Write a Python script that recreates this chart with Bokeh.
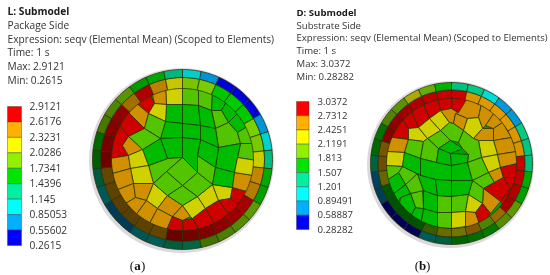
import numpy as np
from bokeh.plotting import figure
from bokeh.models import Range1d
from bokeh.core.properties import value
from bokeh.embed import file_html
from bokeh.resources import INLINE

# ---- legend data ----
band_colors = [(0,0,255),(0,176,255),(0,255,255),(0,240,160),(0,230,0),(144,240,0),(255,255,0),(255,176,0),(255,0,0)]
left_ticks = ["2.9121","2.6176","2.3231","2.0286","1.7341","1.4396","1.145","0.85053","0.55602","0.2615"]
right_ticks = ["3.0372","2.7312","2.4251","2.1191","1.813","1.507","1.201","0.89491","0.58887","0.28282"]
left_text = ["Package Side","Expression: seqv (Elemental Mean) (Scoped to Elements)","Time: 1 s","Max: 2.9121","Min: 0.2615"]
right_text = ["Substrate Side","Expression: seqv (Elemental Mean) (Scoped to Elements)","Time: 1 s","Max: 3.0372","Min: 0.28282"]

# ---- result bands of the rim elements, clockwise from 12 o'clock, 12 degrees each ----
left_outer = [2,1,0,0,0,1,2,3,4,4,5,5,5,5,3,3,2,2,1,1,2,3,4,4,5,5,5,4,4,3]
left_second = [5,5,4,4,4,5,5,6,7,7,8,8,8,8,8,8,7,7,7,7,7,7,8,8,8,8,7,8,7,6]
right_outer = [3,3,2,1,1,3,3,3,4,4,5,5,4,4,4,3,2,0,0,0,1,1,3,4,4,5,5,6,5,4]
right_second = [8,7,7,7,7,7,7,8,8,8,8,7,5,7,6,6,5,4,4,4,4,6,7,7,8,8,8,8,8,8]

# ---- interior elements: (band, nodes) ----
left_cells = [
 (6,[(165,85),(182,85),(182,104),(166,104)]),(5,[(182,85),(198,87),(198,105),(182,104)]),
 (5,[(198,87),(212,92),(211,110),(198,105)]),(4,[(212,92),(226,101),(221,110),(211,110)]),
 (4,[(226,101),(238,112),(228,122),(221,110)]),(4,[(238,112),(250,124),(237,132),(228,122)]),
 (5,[(211,110),(221,110),(228,122),(215,128)]),(5,[(215,128),(228,122),(237,132),(240,143),(218,147)]),
 (5,[(237,132),(250,124),(256,143),(240,143)]),(5,[(240,143),(256,143),(256,160),(237,157)]),
 (4,[(218,147),(240,143),(237,157),(234,172),(215,167)]),(5,[(197,155),(215,167),(212,184),(197,172)]),
 (4,[(200,139),(218,147),(215,167),(197,155)]),(4,[(182,137),(200,139),(197,155),(197,172),(182,157)]),
 (4,[(182,104),(198,105),(200,125),(182,123)]),(4,[(198,105),(211,110),(215,128),(200,125)]),
 (4,[(200,125),(215,128),(218,147),(200,139)]),(4,[(182,123),(200,125),(200,139),(182,137)]),
 (4,[(166,104),(182,104),(182,123),(165,121)]),(4,[(165,121),(182,123),(182,137),(160,138)]),
 (4,[(160,138),(182,137),(182,157),(167,158)]),(5,[(148,165),(167,158),(182,157),(166,171),(153,183)]),
 (4,[(142,149),(160,138),(167,158),(148,165)]),
 (7,[(151,90),(165,85),(166,104),(154,103)]),(8,[(135,102),(149,92),(154,103),(148,113)]),
 (7,[(126,110),(135,102),(148,113),(144,128)]),(8,[(117,122),(126,110),(144,128),(128,136)]),
 (8,[(108,140),(117,122),(128,136),(122,145),(128,155),(109,158)]),(6,[(154,103),(166,104),(165,121),(148,113)]),
 (5,[(148,113),(165,121),(160,138),(144,128)]),(5,[(128,136),(144,128),(160,138),(142,149)]),
 (7,[(122,145),(128,136),(142,149),(128,155)]),(7,[(109,158),(128,155),(130,168),(112,173)]),
 (6,[(128,155),(142,149),(148,165),(130,168)]),(6,[(130,168),(148,165),(153,183),(133,183)]),
 (7,[(112,173),(130,168),(133,183),(115,190)]),(7,[(115,190),(133,183),(135,197),(125,203)]),
 (7,[(133,183),(153,183),(146,200),(135,197)]),(6,[(153,183),(167,195),(157,208),(146,200)]),
 (7,[(125,203),(135,197),(146,200),(135,215)]),(7,[(146,200),(157,208),(148,225),(135,215)]),
 (7,[(157,208),(172,216),(165,232),(148,225)]),(7,[(167,195),(182,205),(172,216),(157,208)]),
 (7,[(182,205),(190,216),(182,220),(172,216)]),(8,[(172,216),(182,220),(183,232),(165,232)]),
 (8,[(182,220),(192,218),(200,232),(183,232)]),(6,[(182,205),(197,196),(205,208),(192,218),(190,216)]),
 (6,[(197,196),(212,184),(218,200),(205,208)]),(6,[(212,184),(232,187),(230,198),(218,200)]),
 (8,[(232,187),(250,192),(243,208),(230,198)]),(8,[(218,200),(230,198),(243,208),(232,218)]),
 (8,[(205,208),(218,200),(232,218),(218,230)]),(8,[(192,218),(205,208),(218,230),(200,232)]),
 (5,[(182,185),(197,196),(182,205),(167,195)]),(5,[(197,172),(212,184),(197,196),(182,185)]),
 (5,[(182,157),(197,172),(182,185),(166,171)]),(5,[(166,171),(182,185),(167,195),(153,183)]),
 (4,[(215,167),(234,172),(232,187),(212,184)]),(7,[(234,172),(253,175),(250,192),(232,187)]),
 (6,[(237,157),(256,160),(253,175),(234,172)]),
]
right_cells = [
 (8,[(437,97),(452,96),(451,108),(440,110)]),(8,[(422,101),(437,97),(440,110),(429,118)]),
 (8,[(410,109),(422,101),(429,118),(418,127)]),(8,[(400,116),(410,109),(418,127),(408,128)]),
 (8,[(389,125),(400,116),(408,128),(408,139),(387,136)]),(7,[(385,136),(408,139),(404,152),(386,151)]),
 (6,[(386,151),(404,152),(402,166),(385,165)]),(6,[(408,128),(418,127),(427,138),(423,141),(408,139)]),
 (6,[(418,127),(429,118),(440,130),(427,138)]),(6,[(429,118),(440,110),(449,122),(440,130)]),
 (7,[(440,110),(451,108),(458,112),(455,113),(453,123),(449,122)]),(8,[(452,96),(467,96),(466,108),(458,112),(451,108)]),
 (7,[(466,99),(481,103),(478,117),(467,118),(455,113),(458,112)]),(7,[(481,103),(494,112),(485,125),(482,128),(478,117)]),
 (7,[(455,113),(467,118),(463,130),(453,123)]),(7,[(494,112),(502,122),(493,128),(485,125)]),
 (6,[(467,118),(478,117),(482,128),(473,138),(463,130)]),(7,[(473,138),(482,128),(493,128),(493,140),(478,140)]),
 (7,[(493,128),(502,122),(511,137),(493,140)]),(7,[(493,140),(511,137),(516,151),(497,154)]),
 (6,[(478,140),(493,140),(497,154),(481,157)]),(6,[(481,157),(497,154),(500,167),(488,172)]),
 (7,[(497,154),(516,151),(517,163),(500,167)]),(5,[(440,130),(449,122),(453,123),(463,130),(458,142),(450,140)]),
 (5,[(427,138),(440,130),(450,140),(438,148)]),(4,[(438,148),(450,140),(462,148),(450,153)]),
 (5,[(462,148),(458,142),(463,130),(473,138),(478,140),(481,157),(467,162),(468,154)]),
 (5,[(408,139),(423,141),(420,158),(404,152)]),(5,[(423,141),(427,138),(438,148),(436,162),(420,158)]),
 (4,[(404,152),(420,158),(420,175),(402,166)]),(4,[(436,162),(451,165),(451,180),(435,179),(420,175),(420,158)]),
 (4,[(438,148),(450,153),(451,165),(436,162)]),(4,[(450,153),(468,154),(467,162),(451,165)]),
 (4,[(451,165),(467,162),(472,180),(451,180)]),(5,[(467,162),(481,157),(488,172),(472,180)]),
 (5,[(472,180),(488,172),(494,182),(483,188)]),(7,[(488,172),(500,167),(503,177),(494,182)]),
 (8,[(500,167),(517,163),(519,177),(503,177)]),(8,[(503,177),(519,177),(515,193),(510,188)]),
 (8,[(483,188),(494,182),(503,177),(510,188),(500,201)]),(8,[(500,201),(510,188),(515,193),(505,208)]),
 (7,[(483,188),(500,201),(490,213),(482,203)]),(5,[(472,180),(483,188),(482,203),(468,194)]),
 (4,[(451,180),(472,180),(468,194),(451,196)]),(5,[(451,196),(468,194),(465,211),(451,212)]),
 (6,[(451,212),(465,211),(465,226),(451,228)]),(6,[(468,194),(482,203),(475,212),(465,211)]),
 (7,[(465,211),(475,212),(480,226),(465,226)]),(8,[(475,212),(482,203),(490,213),(483,222),(480,226)]),
 (5,[(437,195),(451,196),(451,212),(437,212)]),(5,[(437,212),(451,212),(451,228),(437,227)]),
 (4,[(423,208),(437,212),(437,227),(420,225)]),(4,[(423,190),(437,195),(437,212),(423,208)]),
 (4,[(415,207),(423,208),(420,225),(408,219)]),(5,[(410,193),(422,190),(423,208),(415,207)]),
 (5,[(405,184),(417,173),(423,190),(410,193)]),(5,[(398,172),(402,166),(420,175),(417,173),(405,184)]),
 (4,[(400,197),(410,193),(415,207),(408,219),(398,210)]),(4,[(386,180),(398,172),(405,184),(391,195)]),
 (5,[(385,165),(402,166),(398,172),(386,180)]),(4,[(391,195),(405,184),(410,193),(400,197),(396,205)]),
 (4,[(420,175),(435,179),(437,195),(423,190),(417,173)]),(4,[(435,179),(451,180),(451,196),(437,195)]),
]

COL_BG = "#ffffff"
EDGE = "#26320a"
TXT = "#333333"

p = figure(width=550, height=275, x_range=Range1d(0, 550), y_range=Range1d(275, 0),
           toolbar_location=None, output_backend="svg", min_border=0,
           outline_line_color=None, background_fill_color=COL_BG, border_fill_color=COL_BG)
p.axis.visible = False
p.grid.visible = False
p.styles = {"position": "absolute", "left": "0px", "top": "0px", "filter": "blur(0.35px)"}


def shade(level, f, soften=0.0):
    r, g, b = band_colors[level]
    if level == 5:
        r = r * (1 - soften)
    return "#%02x%02x%02x" % (int(r * f), int(g * f), int(b * f))


def sector(cx, cy, r0, r1, a0, a1):
    t = np.radians(np.linspace(a0, a1, 7))
    xo, yo = cx + r1 * np.sin(t), cy - r1 * np.cos(t)
    xi, yi = cx + r0 * np.sin(t[::-1]), cy - r0 * np.cos(t[::-1])
    return np.r_[xo, xi].tolist(), np.r_[yo, yi].tolist()


def draw_disk(cx, cy, R, r1, r2, rim_dx, rim_dy, cells, second, outer):
    p.circle(x=[cx + rim_dx], y=[cy + rim_dy], radius=R + 2.5, fill_color="#dbd9de", line_color=None)
    p.circle(x=[cx], y=[cy], radius=r2 + 1, fill_color=shade(4, 0.7), line_color=None)
    xs = [[q[0] for q in c[1]] for c in cells]
    ys = [[q[1] for q in c[1]] for c in cells]
    cols = [shade(c[0], 0.82, 0.3) for c in cells]
    p.patches(xs=xs, ys=ys, fill_color=cols, line_color=EDGE, line_width=0.75)
    for vals, r_in, r_out, base, amp in ((second, r2, r1, 0.62, 0.26), (outer, r1, R, 0.6, 0.27)):
        n = len(vals)
        sx, sy, sc = [], [], []
        for k, v in enumerate(vals):
            a0 = 360.0 * k / n
            a1 = 360.0 * (k + 1) / n
            x_, y_ = sector(cx, cy, r_in, r_out, a0, a1)
            sx.append(x_)
            sy.append(y_)
            f = base + amp * np.cos(np.radians((a0 + a1) / 2 - 45))
            sc.append(shade(v, f))
        p.patches(xs=sx, ys=sy, fill_color=sc, line_color=EDGE, line_width=0.75)


def draw_legend(x0, w, top, bottom, ticks, label_x, size):
    n = len(band_colors)
    h = (bottom - top) / n
    tops = [top + h * i for i in range(n)]
    p.quad(left=x0, right=x0 + w, top=tops, bottom=[t + h for t in tops],
           fill_color=[shade(n - 1 - i, 1.0) for i in range(n)],
           line_color="#3a3a3a", line_width=0.6, line_alpha=0.7)
    ys = [top - 0.5 + h * i for i in range(len(ticks))]
    p.text(x=[label_x] * len(ticks), y=ys, text=ticks, text_font=value("Open Sans"),
           text_font_size=size, text_color=TXT, text_baseline="middle")


def draw_header(x, title, ys, lines, size):
    p.text(x=[x], y=[ys[0]], text=[title], text_font=value("Open Sans"), text_font_style="bold",
           text_font_size=size, text_color="#1a1a1a", text_baseline="middle")
    p.text(x=[x] * len(lines), y=ys[1:], text=lines, text_font=value("Open Sans"),
           text_font_size=size, text_color=TXT, text_baseline="middle")


def draw_caption(x, y, letter):
    p.text(x=[x - 3.5], y=[y], text=["("], text_font=value("Liberation Serif"), text_font_size="13px",
           text_color="#111111", text_align="right", text_baseline="middle")
    p.text(x=[x], y=[y], text=[letter], text_font=value("Liberation Serif"), text_font_style="bold",
           text_font_size="13px", text_color="#111111", text_align="center", text_baseline="middle")
    p.text(x=[x + 3.5], y=[y], text=[")"], text_font=value("Liberation Serif"), text_font_size="13px",
           text_color="#111111", text_align="left", text_baseline="middle")


draw_disk(182, 159, 90, 82, 71, -1, 1, left_cells, left_second, left_outer)
draw_disk(451, 163, 81, 73.5, 65, -1, 1, right_cells, right_second, right_outer)
draw_legend(7, 14, 106, 245, left_ticks, 29, "10.2px")
draw_legend(296, 12.5, 101, 229, right_ticks, 317, "9.6px")
draw_header(7, "L: Submodel", [10, 24, 38, 51, 65, 79], left_text, "10.2px")
draw_header(296, "D: Submodel", [12, 25, 37, 50, 63, 76], right_text, "9.6px")
draw_caption(137, 265, "a")
draw_caption(422, 265, "b")

open("out.html", "w").write(file_html(p, INLINE))
